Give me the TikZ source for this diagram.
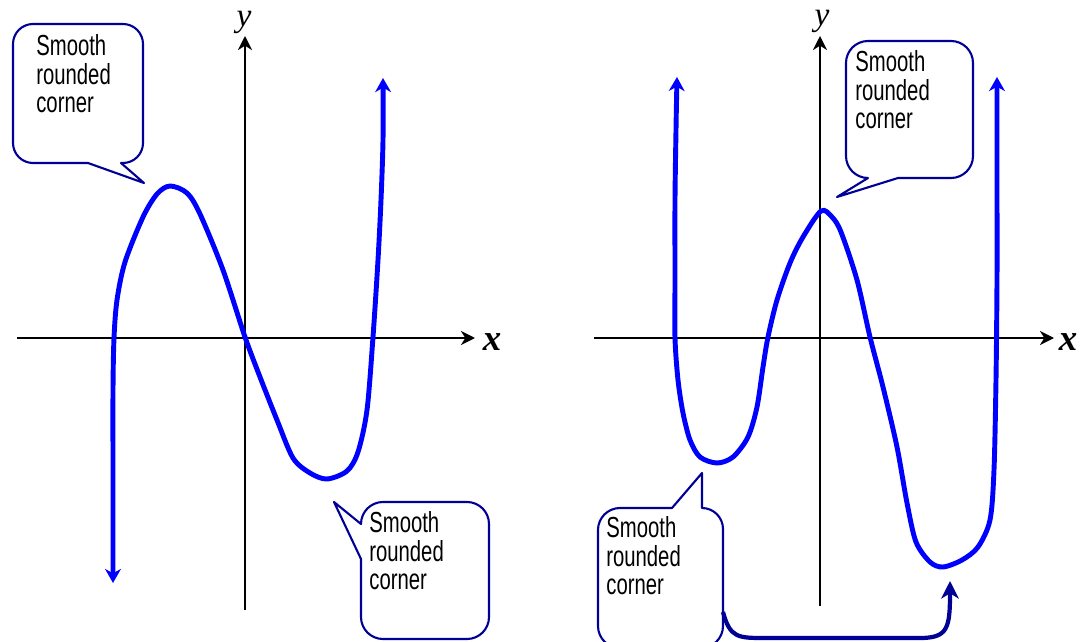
\documentclass[tikz,border=0pt]{standalone}
\usepackage{fontspec}
\usetikzlibrary{arrows.meta}
\newfontfamily\callfont[FakeStretch=0.7]{Liberation Sans}
\newfontfamily\axfont{Liberation Serif}
\definecolor{curveblue}{RGB}{0,0,255}
\definecolor{callnavy}{RGB}{0,0,150}
\tikzset{
  axisline/.style={line width=1.2pt, draw=black, -{Stealth[length=8pt,width=8pt,inset=2.5pt]}},
  curve/.style={line width=2.8pt, draw=curveblue, smooth, tension=0.5,
     {Stealth[length=8pt,width=9pt,inset=2.5pt]}-{Stealth[length=8pt,width=9pt,inset=2.5pt]}},
  callout/.style={line width=1.2pt, draw=callnavy, fill=white, line join=round},
  calltext/.style={font=\callfont\fontsize{16.5}{16.4}\selectfont, align=left, inner sep=0pt, anchor=north west, text=black},
  xlab/.style={font=\axfont\bfseries\itshape\fontsize{21}{21}\selectfont, inner sep=0pt},
  ylab/.style={font=\axfont\itshape\fontsize{19}{19}\selectfont, inner sep=0pt},
  linkarrow/.style={line width=2.4pt, draw=callnavy, -{Stealth[length=10pt,width=10pt,inset=3pt]}}
}
\begin{document}
\begin{tikzpicture}[x=0.02cm,y=-0.02cm]
\useasboundingbox (0,0) rectangle (1086,642);

% ---------- left graph axes ----------
\coordinate (lxs) at (17,338);
\coordinate (lxe) at (475,338);
\coordinate (lys) at (245,610);
\coordinate (lye) at (245,36);
\draw[axisline] (lxs) -- (lxe);
\draw[axisline] (lys) -- (lye);
\node[xlab] (lx) at (492,342) {x};
\node[ylab] (ly) at (244,22) {y};

% ---------- right graph axes ----------
\coordinate (rxs) at (594,338);
\coordinate (rxe) at (1054,338);
\coordinate (rys) at (820,606);
\coordinate (rye) at (820,36);
\draw[axisline] (rxs) -- (rxe);
\draw[axisline] (rys) -- (rye);
\node[xlab] (rx) at (1068,342) {x};
\node[ylab] (ry) at (822,21) {y};

% ---------- left curve ----------
\draw[curve] plot coordinates {
 (113,583) (113,480) (113,390) (114,338) (117,300) (125,262) (143,217) (157,194) (170,186) (187,193)
 (200,214) (223,270) (245,337) (260,377) (277,420) (293,458) (310,473) (327,479)
 (347,471) (358,452) (367,410) (373,337) (378,260) (381,200) (383,140) (383,78)};

% ---------- right curve ----------
\draw[curve] plot coordinates {
 (677,77) (676,130) (675,200) (675,280) (675,338) (678,380) (683,413) (690,440) (700,457) (717,463)
 (733,457) (748,437) (757,407) (763,367) (768,337) (777,300) (790,263) (803,237)
 (821,211) (832,217) (841,232) (857,280) (870,337) (883,387) (897,447) (907,503)
 (916,542) (930,562) (943,567) (962,560) (978,547) (990,520) (994,470) (996,380) (997,280) (997,180) (997,77)};

% ---------- callout 1 (top left) ----------
\draw[callout] (121,163) -- (123,163) arc (90:0:20) -- (143,44) arc (0:-90:20)
  -- (33,24) arc (-90:-180:20) -- (13,143) arc (180:90:20) -- (88,163) -- (144,183) -- cycle;
\node[calltext] (c1) at (36,34) {Smooth\\rounded\\corner};

% ---------- callout 2 (bottom, left graph) ----------
\draw[callout] (361,559) -- (361,617) arc (180:90:22) -- (467,639) arc (90:0:22)
  -- (489,524) arc (0:-90:22) -- (383,502) arc (-90:-180:22) -- (334,502) -- cycle;
\node[calltext] (c2) at (369,511) {Smooth\\rounded\\corner};

% ---------- callout 3 (top, right graph) ----------
\draw[callout] (898,178) -- (951,178) arc (90:0:22) -- (973,63) arc (0:-90:22)
  -- (868,41) arc (-90:-180:22) -- (846,156) arc (180:90:22) -- (837,197) -- cycle;
\node[calltext] (c3) at (855,50) {Smooth\\rounded\\corner};

% ---------- callout 4 (bottom, right graph) ----------
\draw[callout] (672,508) -- (702,473) -- (702,508) arc (-90:0:21) -- (723,626) arc (0:90:22)
  -- (620,648) arc (90:180:22) -- (598,530) arc (180:270:22) -- cycle;
\node[calltext] (c4) at (606,516) {Smooth\\rounded\\corner};

% ---------- link arrow ----------
\coordinate (ls) at (723,612);
\coordinate (le) at (950,581);
\draw[linkarrow] (ls) .. controls (730,638) and (738,638) .. (765,638)
  -- (920,638) .. controls (948,638) and (950,628) .. (le);
\end{tikzpicture}
\end{document}
